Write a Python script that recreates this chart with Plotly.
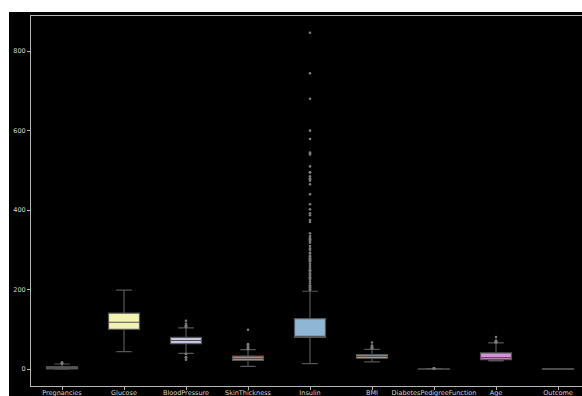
import plotly.graph_objects as go

# Per-column box statistics of the diabetes dataset
columns = ["Pregnancies", "Glucose", "BloodPressure", "SkinThickness", "Insulin",
           "BMI", "DiabetesPedigreeFunction", "Age", "Outcome"]
q1 = [1, 100, 64, 22, 79.8, 27.5, 0.24, 24, 0]
median = [3, 118, 72.2, 27, 79.8, 32.4, 0.37, 29, 0]
q3 = [6, 141, 80, 33, 127.25, 36.6, 0.63, 41, 1]
lower_whisker = [0, 44, 40, 7, 14, 18.2, 0.078, 21, 0]
upper_whisker = [13, 199, 104, 49, 196, 50.0, 1.19, 66, 1]

# Points beyond the whiskers
outliers = {
    "Pregnancies": [14, 14, 15, 17],
    "Glucose": [],
    "BloodPressure": [24, 30, 30, 38, 38, 106, 106, 108, 110, 110, 114, 122],
    "SkinThickness": [50, 51, 52, 54, 56, 60, 63, 99],
    "Insulin": [200, 200, 204, 205, 207, 210, 210, 215, 220, 225, 228, 230, 231,
                235, 237, 240, 240, 245, 248, 249, 250, 255, 260, 265, 271, 272,
                274, 275, 277, 278, 280, 284, 285, 291, 293, 300, 304, 310, 318,
                321, 325, 325, 326, 328, 330, 335, 342, 370, 375, 387, 392, 402,
                415, 440, 465, 474, 478, 480, 485, 495, 495, 510, 540, 543, 545,
                579, 600, 680, 744, 846],
    "BMI": [52.3, 52.9, 53.2, 55.0, 57.3, 59.4, 67.1],
    "DiabetesPedigreeFunction": [1.22, 1.29, 1.39, 1.48, 1.60, 1.70, 1.78, 1.89, 2.14, 2.29, 2.42],
    "Age": [67, 67, 68, 69, 69, 70, 72, 81],
    "Outcome": [],
}

fill_colors = ["#8fb2a8", "#f2f2b3", "#c5c3dd", "#e8877d", "#8fb6d4",
               "#d4ac80", "#afcf78", "#cc95cc", "#d0d0d0"]

edge = "#555555"
spine = "#b4b4b4"
text_color = "#d4d4d4"

fig = go.Figure()

for i, col in enumerate(columns):
    fig.add_trace(go.Box(
        x=[col],
        q1=[q1[i]], median=[median[i]], q3=[q3[i]],
        lowerfence=[lower_whisker[i]], upperfence=[upper_whisker[i]],
        width=0.5, whiskerwidth=0.5,
        fillcolor=fill_colors[i],
        line=dict(color=edge, width=1.2),
        boxpoints=False,
        showlegend=False,
        hoverinfo="skip",
    ))

out_x = []
out_y = []
for col in columns:
    out_x += [col] * len(outliers[col])
    out_y += outliers[col]

fig.add_trace(go.Scatter(
    x=out_x, y=out_y, mode="markers",
    marker=dict(size=2.6, color="#7a7a7a", line=dict(width=0)),
    showlegend=False, hoverinfo="skip",
))

plot_w = 582 - 31
plot_h = 386 - 16

fig.update_layout(
    width=582, height=396,
    margin=dict(l=31, r=0, t=16, b=10),
    paper_bgcolor="#000000",
    plot_bgcolor="#000000",
    font=dict(family="DejaVu Sans", size=6.5, color=text_color),
    xaxis=dict(
        type="category",
        categoryorder="array", categoryarray=columns,
        range=[-0.5, 8.5 - 7 / 62],
        automargin=False,
        showgrid=False, zeroline=False,
        showline=True, linecolor=spine, linewidth=1, mirror=True,
        ticks="outside", ticklen=3, tickcolor=spine, tickwidth=1,
        ticklabelstandoff=-3,
        tickfont=dict(size=6.5, color=text_color),
    ),
    yaxis=dict(
        range=[-42.3, 888.3],
        tickvals=[0, 200, 400, 600, 800],
        automargin=False,
        showgrid=False, zeroline=False,
        showline=True, linecolor=spine, linewidth=1,
        ticks="outside", ticklen=3, tickcolor=spine, tickwidth=1,
        tickfont=dict(size=6.5, color=text_color),
    ),
    shapes=[
        # white page strips along the top and left edges
        dict(type="rect", xref="paper", yref="paper",
             x0=-0.2, x1=1.2, y0=1 + 4 / plot_h, y1=1.2,
             fillcolor="#ffffff", line=dict(width=0)),
        dict(type="rect", xref="paper", yref="paper",
             x0=-0.2, x1=-22 / plot_w, y0=-0.2, y1=1.2,
             fillcolor="#ffffff", line=dict(width=0)),
    ],
)

fig.write_html("out.html")
